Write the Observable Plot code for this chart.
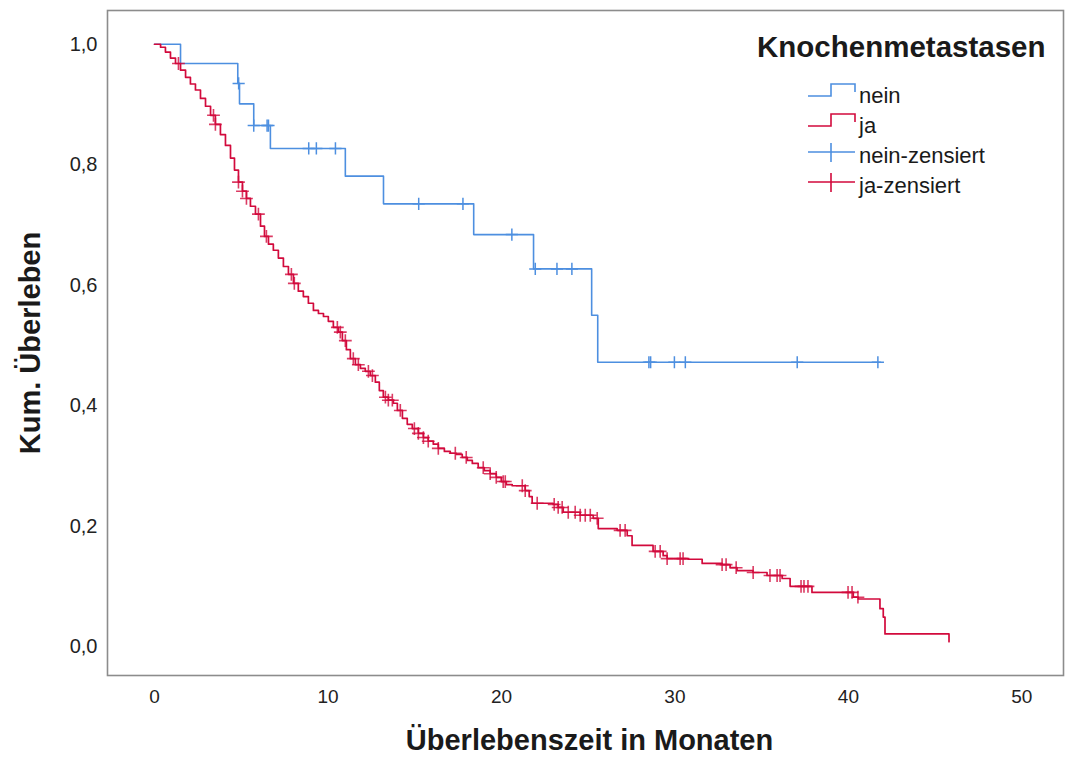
<!DOCTYPE html>
<html>
<head>
<meta charset="utf-8">
<script src="https://cdn.jsdelivr.net/npm/d3@7"></script>
<script src="https://cdn.jsdelivr.net/npm/@observablehq/plot@0.6"></script>
<style>
  html, body { margin: 0; padding: 0; background: #fff; }
  #wrap { position: relative; width: 1066px; height: 767px; font-family: "Liberation Sans", Arial, sans-serif; }
  #legend { position: absolute; left: 0; top: 0; pointer-events: none; }
</style>
</head>
<body>
<div id="wrap">
  <div id="chart"></div>
  <svg id="legend" width="1066" height="767" font-family="Liberation Sans, Arial, sans-serif">
    <text x="757" y="57" font-size="29.5" font-weight="bold" fill="#1a1a1a">Knochenmetastasen</text>
    <path d="M808,96H831V84H855V92" fill="none" stroke="#4d8fe0" stroke-width="1.6"/>
    <text x="859" y="103" font-size="22" fill="#1a1a1a">nein</text>
    <path d="M808,126H831V114H855V122" fill="none" stroke="#d20a3c" stroke-width="1.6"/>
    <text x="859" y="133" font-size="22" fill="#1a1a1a">ja</text>
    <path d="M808,152H855M831,143V162" fill="none" stroke="#4d8fe0" stroke-width="1.6"/>
    <text x="859" y="163" font-size="22" fill="#1a1a1a">nein-zensiert</text>
    <path d="M808,182H855M831,173V192" fill="none" stroke="#d20a3c" stroke-width="1.6"/>
    <text x="859" y="193" font-size="22" fill="#1a1a1a">ja-zensiert</text>
  </svg>
</div>
<script>
// ---- data ----
const groups = ["nein", "ja"];
const colors = ["#4d8fe0", "#d20a3c"];

// Kaplan-Meier step knots: time (months) and cumulative survival
const neinTime = [0, 1.5, 4.8, 4.9, 5.72, 6.68, 11.0, 13.2, 18.4, 21.85, 25.2, 25.55, 41.85];
const neinSurv = [1.0, 0.968, 0.935, 0.901, 0.865, 0.827, 0.781, 0.735, 0.684, 0.627, 0.550, 0.472, 0.472];
const neinCensored = [4.85, 5.72, 6.49, 6.57, 8.89, 9.33, 10.43, 15.23, 17.78, 20.6, 21.95, 23.2, 24.06, 28.5, 28.6, 29.97, 30.6, 37.05, 41.7];

const jaTime = [0, 0.35, 0.63, 0.92, 1.21, 1.50, 1.79, 2.07, 2.36, 2.65, 2.94, 3.23, 3.51, 3.80, 4.09, 4.38, 4.61, 4.84, 5.07, 5.30, 5.53, 5.82, 6.11, 6.34, 6.57, 6.85, 7.14, 7.43, 7.72, 8.01, 8.29, 8.58, 8.87, 9.16, 9.45, 9.74, 10.02, 10.31, 10.60, 10.83, 11.06, 11.29, 11.58, 11.87, 12.15, 12.44, 12.73, 12.96, 13.19, 13.48, 13.77, 14.00, 14.29, 14.57, 14.86, 15.21, 15.50, 15.78, 16.07, 16.36, 16.71, 17.05, 17.40, 17.74, 18.03, 18.32, 18.66, 19.01, 19.35, 19.70, 19.99, 20.28, 20.62, 21.37, 21.60, 21.77, 22.98, 23.27, 23.56, 24.54, 25.29, 25.58, 26.67, 27.25, 27.53, 28.74, 29.32, 29.55, 30.76, 31.57, 32.72, 33.18, 33.58, 34.50, 35.31, 36.18, 36.64, 37.90, 40.28, 40.57, 41.82, 42.01, 42.11, 45.80];
const jaSurv = [1.000, 0.995, 0.987, 0.977, 0.968, 0.957, 0.945, 0.934, 0.924, 0.910, 0.897, 0.882, 0.867, 0.850, 0.832, 0.811, 0.791, 0.771, 0.756, 0.744, 0.731, 0.718, 0.698, 0.681, 0.668, 0.658, 0.645, 0.631, 0.618, 0.603, 0.590, 0.581, 0.570, 0.558, 0.553, 0.548, 0.540, 0.530, 0.522, 0.508, 0.493, 0.478, 0.468, 0.462, 0.457, 0.450, 0.439, 0.425, 0.414, 0.409, 0.404, 0.392, 0.379, 0.369, 0.362, 0.354, 0.347, 0.341, 0.336, 0.329, 0.324, 0.321, 0.319, 0.314, 0.309, 0.304, 0.297, 0.292, 0.287, 0.281, 0.274, 0.269, 0.267, 0.259, 0.249, 0.238, 0.236, 0.231, 0.223, 0.218, 0.213, 0.196, 0.193, 0.184, 0.168, 0.158, 0.151, 0.146, 0.145, 0.138, 0.136, 0.131, 0.126, 0.123, 0.118, 0.113, 0.100, 0.090, 0.082, 0.079, 0.063, 0.049, 0.021, 0.008];
const jaCensored = [1.38, 3.40, 3.51, 4.84, 5.07, 5.30, 5.99, 6.45, 7.89, 8.06, 10.54, 10.71, 11.0, 11.46, 11.75, 12.33, 12.56, 13.31, 13.48, 13.71, 14.17, 14.98, 15.21, 15.50, 15.78, 16.36, 17.34, 17.97, 18.95, 19.35, 19.70, 20.10, 20.22, 21.2, 21.37, 22.06, 23.04, 23.27, 23.50, 23.85, 24.25, 24.54, 24.83, 25.12, 25.52, 26.84, 27.13, 28.86, 29.15, 29.55, 30.30, 30.47, 32.72, 32.95, 33.53, 34.51, 35.48, 35.89, 36.06, 37.27, 37.44, 37.67, 39.98, 40.21, 40.55];

const xTicks = [0, 10, 20, 30, 40, 50];
const yTicks = [0, 0.2, 0.4, 0.6, 0.8, 1.0];

// ---- build tables ----
function curve(times, surv) { return times.map((t, i) => ({t, s: surv[i]})); }
function censorPoints(times, surv, cens) {
  return cens.map(t => {
    const i = Math.max(0, d3.bisectRight(times, t) - 1);
    return {t, s: surv[i]};
  });
}
const neinCurve = curve(neinTime, neinSurv);
const jaCurve = curve(jaTime, jaSurv);
const neinCens = censorPoints(neinTime, neinSurv, neinCensored);
const jaCens = censorPoints(jaTime, jaSurv, jaCensored);

const fmt = d => d3.format(".1f")(d).replace(".", ",");

const chart = Plot.plot({
  width: 1066,
  height: 767,
  marginLeft: 107,
  marginRight: 3,
  marginTop: 10,
  marginBottom: 92,
  style: {fontFamily: "Liberation Sans, Arial, sans-serif", background: "#fff", color: "#1a1a1a"},
  x: {domain: [-2.71, 52.4]},
  y: {domain: [-0.048, 1.056]},
  marks: [
    Plot.frame({stroke: "#8c8c8c", strokeWidth: 1.6}),
    Plot.axisX({ticks: xTicks, tickSize: 0, tickPadding: 14, fontSize: 19, label: null, tickFormat: d => String(d), fill: "#222"}),
    Plot.axisY({ticks: yTicks, tickSize: 0, tickPadding: 10, fontSize: 20, label: null, tickFormat: fmt, fill: "#222"}),
    Plot.line(neinCurve, {x: "t", y: "s", curve: "step-after", stroke: colors[0], strokeWidth: 1.6}),
    Plot.line(jaCurve, {x: "t", y: "s", curve: "step-after", stroke: colors[1], strokeWidth: 1.7}),
    Plot.dot(neinCens, {x: "t", y: "s", symbol: "plus", r: 4, stroke: colors[0], strokeWidth: 1.5}),
    Plot.dot(jaCens, {x: "t", y: "s", symbol: "plus", r: 4.2, stroke: colors[1], strokeWidth: 1.6, strokeOpacity: 0.8}),
    Plot.text(["Überlebenszeit in Monaten"], {text: d => d, frameAnchor: "bottom", dy: 74, dx: 4, fontSize: 29, fontWeight: "bold", fill: "#1a1a1a"}),
    Plot.text(["Kum. Überleben"], {text: d => d, frameAnchor: "left", textAnchor: "middle", dx: -77, rotate: -90, fontSize: 29, fontWeight: "bold", fill: "#1a1a1a"})
  ]
});
document.getElementById("chart").appendChild(chart);
</script>
</body>
</html>
